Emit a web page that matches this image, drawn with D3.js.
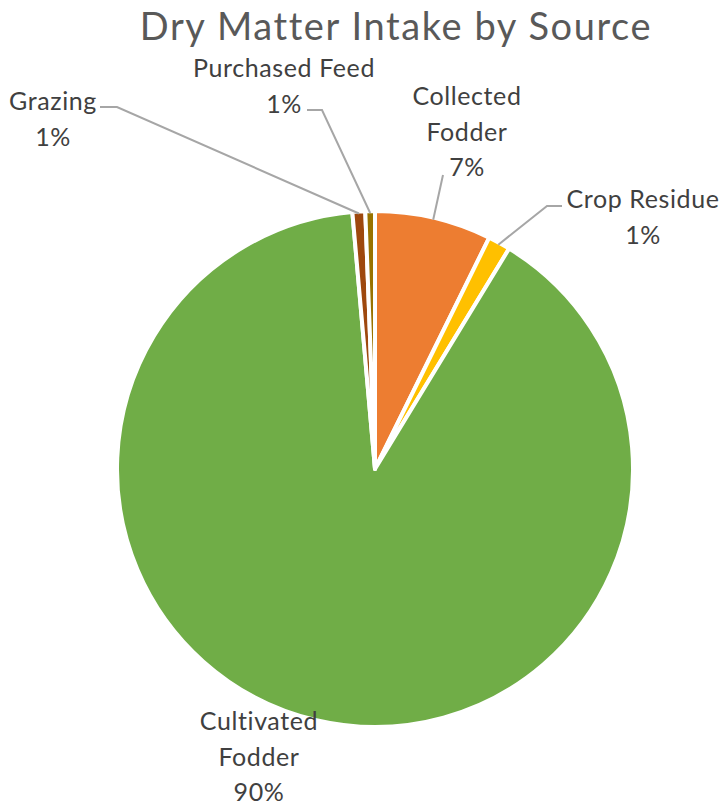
<!DOCTYPE html>
<html><head><meta charset="utf-8">
<script src="https://cdn.jsdelivr.net/npm/d3@7/dist/d3.min.js"></script>
<style>body{margin:0;background:#fff}</style>
</head><body>
<svg id="c" width="723" height="805"></svg>
<script>
const categories = ["Collected Fodder", "Crop Residue", "Cultivated Fodder", "Grazing", "Purchased Feed"];
const values = [7.3, 1.4, 89.9, 0.8, 0.6];
const colors = ["#ED7D31", "#FFC000", "#70AD47", "#9E480E", "#997300"];
const labelLines = [["Collected", "Fodder"], ["Crop Residue"], ["Cultivated", "Fodder"], ["Grazing"], ["Purchased Feed"]];

const W = 723, H = 805;
const cx = 375, cy = 469, R = 258;
const font = "Lato, 'Open Sans', sans-serif";
const svg = d3.select("#c");

svg.append("text").attr("x", 396).attr("y", 40).attr("text-anchor", "middle")
  .attr("font-family", font).attr("font-size", 38).attr("letter-spacing", 1.6).attr("fill", "#595959")
  .text("Dry Matter Intake by Source");

const data = categories.map((c, i) => ({name: c, value: values[i], color: colors[i], lines: labelLines[i]}));
const pie = d3.pie().value(d => d.value).sort(null);
const arcs = pie(data);
const arc = d3.arc().innerRadius(0).outerRadius(R);
const g = svg.append("g").attr("transform", `translate(${cx},${cy})`);
g.selectAll("path").data(arcs).join("path")
  .attr("d", arc).attr("fill", d => d.data.color)
  .attr("stroke", "#fff").attr("stroke-width", 4).attr("stroke-linejoin", "round");

// label layout (pixel positions of text blocks: center x, first baseline y), leader elbows
const layout = {
  "Collected Fodder": {x: 467, y: 105, elbow: [[443, 175]]},
  "Crop Residue": {x: 643, y: 208, elbow: [[562, 206], [547, 206]]},
  "Cultivated Fodder": {x: 259, y: 730, elbow: null},
  "Grazing": {x: 53, y: 110, elbow: [[100, 107], [117, 107]]},
  "Purchased Feed": {x: 284, y: 77, elbow: [[307, 110], [322, 110]]}
};
const lh = 35.5;
const fmt = d3.format(".0%");
const total = d3.sum(values);

arcs.forEach(a => {
  const L = layout[a.data.name];
  const mid = (a.startAngle + a.endAngle) / 2;
  if (L.elbow) {
    const p = [cx + (R - 2) * Math.sin(mid), cy - (R - 2) * Math.cos(mid)];
    const pts = L.elbow.concat([p]);
    svg.append("path").attr("d", d3.line()(pts)).attr("fill", "none")
      .attr("stroke", "#A6A6A6").attr("stroke-width", 2);
  }
  const lines = a.data.lines.concat([fmt(a.data.value / total)]);
  const t = svg.append("text").attr("text-anchor", "middle")
    .attr("font-family", font).attr("font-size", 25).attr("letter-spacing", 0.6).attr("fill", "#404040");
  lines.forEach((s, i) => t.append("tspan").attr("x", L.x).attr("y", L.y + i * lh).text(s));
});
</script>
</body></html>
